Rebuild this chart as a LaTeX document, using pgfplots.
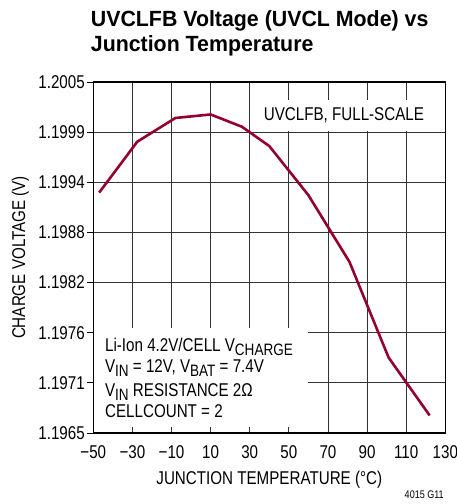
\documentclass[border=0pt]{standalone}
\usepackage{fontspec}
\setmainfont{Liberation Sans}[FakeStretch=0.82]
\newfontfamily\titlefont{Liberation Sans}[FakeStretch=0.97]
\usepackage{pgfplots}
\pgfplotsset{compat=1.18}
\definecolor{curve}{RGB}{148,0,44}
\newcommand{\lbl}{\fontsize{18.5}{22}\selectfont}
\newcommand{\sub}[1]{\raisebox{-3.8pt}{\fontsize{16.5}{18}\selectfont #1}}
\begin{document}
\begin{tikzpicture}
\useasboundingbox (0,0) rectangle (456pt,504pt);
\begin{axis}[
  at={(93.3pt,71pt)}, anchor=south west,
  width=352pt, height=351pt, scale only axis,
  xmin=-50, xmax=130, ymin=1.1965, ymax=1.2005,
  xtick={-50,-30,...,130},
  xticklabels={−50,−30,−10,10,30,50,70,90,110,130},
  ytick={1.1965,1.197071,1.197643,1.198214,1.198786,1.199357,1.199929,1.2005},
  yticklabels={1.1965,1.1971,1.1976,1.1982,1.1988,1.1994,1.1999,1.2005},
  grid=major,
  major grid style={line width=0.8pt, draw=black!80},
  axis line style={line width=1.5pt},
  tick pos=left, tick align=outside, major tick length=6pt,
  xtick style={draw=none},
  ytick style={line width=0.8pt, black},
  ticklabel style={font=\lbl},
  xticklabel style={yshift=-3pt},
  yticklabel style={xshift=1pt},
  clip=false,
]
\addplot[curve, line width=2.6pt] coordinates {
  (-47,1.19924) (-27.5,1.19982) (-8,1.20009) (10,1.20013) (26,1.19999)
  (40,1.19977) (60,1.19921) (81,1.19845) (101,1.19736) (122,1.19670)
};
\fill[white] (rel axis cs:0.462,0.860) rectangle (rel axis cs:0.962,0.949);
\fill[white] (rel axis cs:0.003,0.018) rectangle (rel axis cs:0.61,0.300);
\node[font=\lbl, anchor=center] at (rel axis cs:0.712,0.9045) {UVCLFB, FULL-SCALE};
\node[font=\lbl, anchor=base west, inner sep=0pt] at (rel axis cs:0.033,0.231) {Li-Ion 4.2V/CELL V\sub{CHARGE}};
\node[font=\lbl, anchor=base west, inner sep=0pt] at (rel axis cs:0.033,0.171) {V\sub{IN} = 12V, V\sub{BAT} = 7.4V};
\node[font=\lbl, anchor=base west, inner sep=0pt] at (rel axis cs:0.033,0.103) {V\sub{IN} RESISTANCE 2Ω};
\node[font=\lbl, anchor=base west, inner sep=0pt] at (rel axis cs:0.033,0.043) {CELLCOUNT = 2};
\node[font=\lbl, anchor=base, inner sep=0pt] at (rel axis cs:0.5,-0.148) {JUNCTION TEMPERATURE (°C)};
\node[font=\lbl, anchor=base, rotate=90, inner sep=0pt] at (rel axis cs:-0.194,0.5) {CHARGE VOLTAGE (V)};
\node[font=\fontsize{11}{13}\selectfont, anchor=base east, inner sep=0pt] at (rel axis cs:0.996,-0.188) {4015 G11};
\node[font=\titlefont\fontsize{22}{24}\selectfont\bfseries, anchor=base west, inner sep=0pt] at (rel axis cs:-0.0074,1.158) {UVCLFB Voltage (UVCL Mode) vs};
\node[font=\titlefont\fontsize{22}{24}\selectfont\bfseries, anchor=base west, inner sep=0pt] at (rel axis cs:-0.0074,1.088) {Junction Temperature};
\end{axis}
\end{tikzpicture}
\end{document}
